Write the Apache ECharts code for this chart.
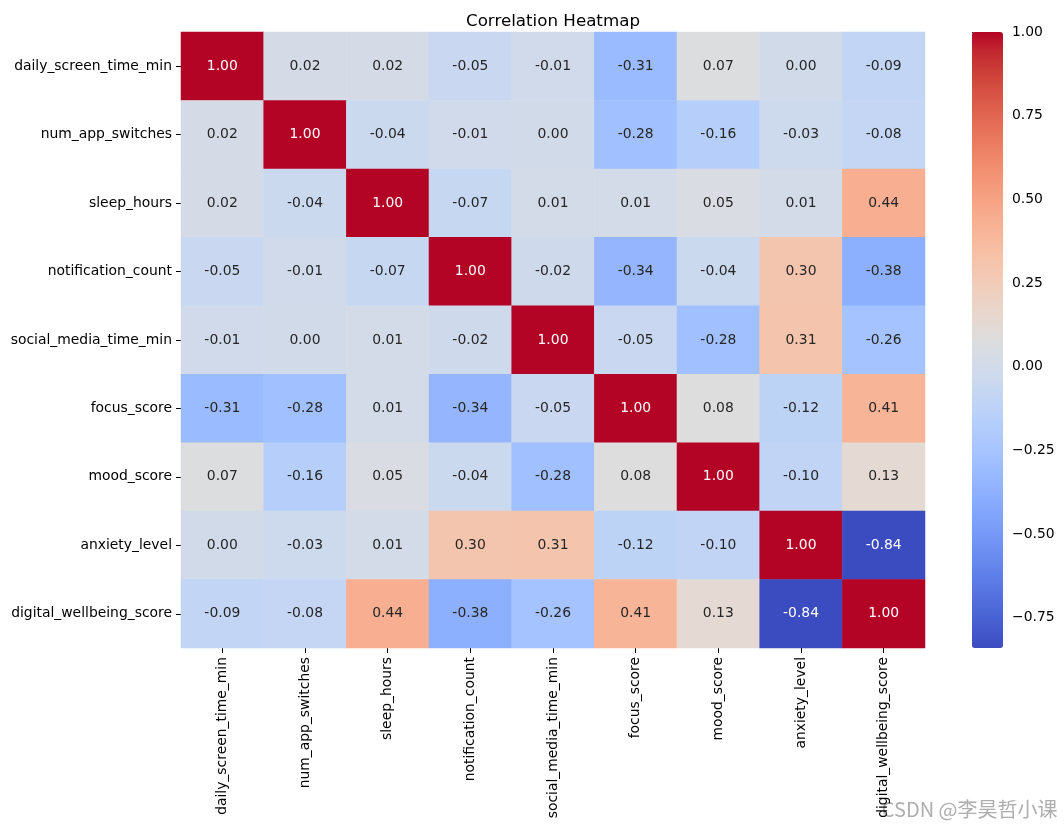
<!DOCTYPE html>
<html>
<head>
<meta charset="utf-8">
<script src="https://cdn.jsdelivr.net/npm/echarts@6/dist/echarts.min.js"></script>
<style>html,body{margin:0;padding:0;background:#fff}#c{width:1064px;height:829px}</style>
</head>
<body>
<div id="c"></div>
<script>
const variables = ['daily_screen_time_min','num_app_switches','sleep_hours','notification_count','social_media_time_min','focus_score','mood_score','anxiety_level','digital_wellbeing_score'];
const corr = [
  [1.00, 0.02, 0.02, -0.05, -0.01, -0.31, 0.07, 0.00, -0.09],
  [0.02, 1.00, -0.04, -0.01, 0.00, -0.28, -0.16, -0.03, -0.08],
  [0.02, -0.04, 1.00, -0.07, 0.01, 0.01, 0.05, 0.01, 0.44],
  [-0.05, -0.01, -0.07, 1.00, -0.02, -0.34, -0.04, 0.30, -0.38],
  [-0.01, 0.00, 0.01, -0.02, 1.00, -0.05, -0.28, 0.31, -0.26],
  [-0.31, -0.28, 0.01, -0.34, -0.05, 1.00, 0.08, -0.12, 0.41],
  [0.07, -0.16, 0.05, -0.04, -0.28, 0.08, 1.00, -0.10, 0.13],
  [0.00, -0.03, 0.01, 0.30, 0.31, -0.12, -0.10, 1.00, -0.84],
  [-0.09, -0.08, 0.44, -0.38, -0.26, 0.41, 0.13, -0.84, 1.00]
];
const colorbarTicks = [-0.75, -0.50, -0.25, 0.00, 0.25, 0.50, 0.75, 1.00];
const vMin = -0.84, vMax = 1.00;
const coolwarm = ['#3b4cc0','#445acc','#4d68d7','#5775e1','#6282ea','#6c8ef1','#779af7','#82a5fb','#8db0fe','#98b9ff','#a3c2ff','#aec9fd','#b8d0f9','#c2d5f4','#ccd9ee','#d5dbe6','#dddddd','#e5d8d1','#ecd3c5','#f1ccb8','#f5c4ac','#f7bba0','#f7b194','#f7a687','#f49a7b','#f18d6f','#ec7f63','#e57058','#de604d','#d55042','#cb3e38','#c0282f','#b40426'];

const data = [];
corr.forEach((row, i) => row.forEach((v, j) => {
  data.push({value: [j, i, v], label: {color: (v > 0.6 || v < -0.6) ? '#ffffff' : '#262626'}});
}));

const font = 'DejaVu Sans';
const fs = 13.9;
const hiddenLine = {show: true, lineStyle: {color: 'rgba(0,0,0,0)', width: 0}};
const tick = {show: true, alignWithLabel: true, length: 5, lineStyle: {color: '#000', width: 1}};
const chart = echarts.init(document.getElementById('c'));
chart.setOption({
  backgroundColor: '#ffffff',
  animation: false,
  title: {text: 'Correlation Heatmap', left: 548, textAlign: 'center', top: 8,
    textStyle: {fontFamily: font, fontSize: 16.7, fontWeight: 'normal', color: '#000'}},
  grid: [
    {left: 181, top: 32, width: 744, height: 616, containLabel: false},
    {left: 972, top: 32, width: 31, height: 616, containLabel: false}
  ],
  xAxis: [
    {type: 'category', data: variables, gridIndex: 0,
      axisLine: hiddenLine, splitLine: {show: false}, axisTick: tick,
      axisLabel: {rotate: 90, fontFamily: font, fontSize: fs, color: '#000', margin: 9, interval: 0}},
    {type: 'value', gridIndex: 1, show: false, min: 0, max: 1}
  ],
  yAxis: [
    {type: 'category', data: variables, inverse: true, gridIndex: 0,
      axisLine: hiddenLine, splitLine: {show: false}, axisTick: tick,
      axisLabel: {fontFamily: font, fontSize: fs, color: '#000', margin: 9, interval: 0}},
    {type: 'value', gridIndex: 1, position: 'right', min: vMin, max: vMax,
      axisLine: hiddenLine, splitLine: {show: false},
      axisTick: {show: true, length: 5, lineStyle: {color: '#000', width: 1}, customValues: colorbarTicks},
      axisLabel: {fontFamily: font, fontSize: fs, color: '#000', margin: 9, customValues: colorbarTicks,
        formatter: v => (v < 0 ? '\u2212' : '') + Math.abs(v).toFixed(2)}}
  ],
  visualMap: {
    type: 'continuous', min: vMin, max: vMax, seriesIndex: 0, dimension: 2,
    left: 972, top: 32, itemWidth: 31, itemHeight: 616, padding: 0,
    calculable: false, text: null, hoverLink: false, realtime: false,
    inRange: {color: coolwarm}
  },
  series: [
    {type: 'heatmap', xAxisIndex: 0, yAxisIndex: 0, data: data,
      label: {show: true, fontFamily: font, fontSize: fs, formatter: p => p.value[2].toFixed(2)},
      itemStyle: {borderWidth: 0},
      emphasis: {disabled: true}},
    {type: 'scatter', xAxisIndex: 1, yAxisIndex: 1, data: [], silent: true}
  ],
  graphic: [
    {type: 'text', right: 6, top: 799, silent: true,
      style: {text: 'CSDN @李昊哲小课', font: '20px "Noto Sans CJK SC", sans-serif', fill: 'rgba(160,160,160,0.85)',
        stroke: '#ffffff', lineWidth: 1}}
  ]
});
</script>
</body>
</html>
